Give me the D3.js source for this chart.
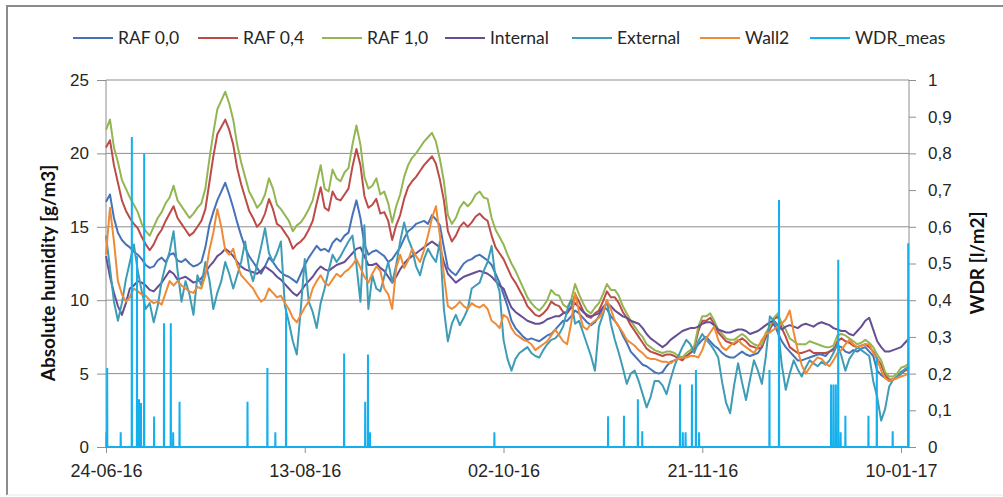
<!DOCTYPE html>
<html>
<head>
<meta charset="utf-8">
<script src="https://cdn.jsdelivr.net/npm/d3@7"></script>
<style>
    body { margin: 0; background: #fff; }
    svg { font-family: Lato, 'Open Sans', sans-serif; }
</style>
</head>
<body>
<div id="chart"></div>
<script>
// daily samples starting 24-06-2016
const startDate = Date.UTC(2016, 5, 24);
const dayMs = 86400000;
const stepDays = 1;
const lastDay = 202;

const raf00 = [
    16.7, 17.2, 15.6, 14.6, 14.1, 13.8, 13.6, 13.3, 13.1, 12.8,
    12.4, 12.2, 12.3, 12.7, 12.9, 12.6, 13.1, 13.2, 12.7, 12.6,
    12.8, 12.5, 12.3, 12.4, 12.6, 13.6, 15.1, 16.0, 16.8, 17.4,
    18.0, 17.2, 16.3, 15.3, 14.4, 13.6, 13.0, 12.6, 12.2, 11.8,
    12.3, 12.9, 12.6, 12.2, 11.9, 11.7, 11.6, 11.4, 11.2, 11.8,
    12.4, 12.9, 13.3, 13.7, 13.4, 13.5, 13.3, 13.9, 14.2, 14.0,
    14.4, 14.6, 15.8, 16.8, 15.6, 13.8, 13.1, 13.3, 13.4, 13.2,
    13.0, 12.6, 12.8, 13.2, 13.6, 14.2, 14.7, 14.9, 15.2, 15.3,
    15.4, 15.2, 15.8, 15.5, 15.1, 13.6, 12.2, 11.9, 11.7, 12.1,
    12.5, 12.7, 12.8, 13.0, 13.1, 12.9, 12.7, 12.4, 11.8, 11.2,
    10.4, 9.6, 8.6, 8.1, 7.8, 7.5, 7.3, 7.4, 7.3, 7.2,
    7.4, 7.6, 7.7, 8.0, 8.3, 8.6, 8.6, 8.9, 9.3, 9.1,
    8.8, 8.5, 8.3, 8.5, 8.9, 9.5, 9.4, 8.9, 8.6, 8.2,
    7.6, 7.1, 6.5, 6.2, 5.9, 5.6, 5.5, 5.3, 5.1, 5.0,
    5.1, 5.5, 5.8, 5.9, 6.0, 6.1, 6.2, 6.4, 6.6, 7.0,
    7.3, 7.5, 7.2, 6.9, 6.7, 6.4, 6.2, 6.1, 6.1, 6.3,
    6.5, 6.3, 6.2, 6.3, 6.4, 6.8, 7.6, 8.1, 8.4, 7.8,
    7.2, 6.8, 6.5, 6.2, 5.9, 5.9, 6.0, 6.1, 6.2, 6.3,
    6.3, 6.2, 6.5, 6.7, 6.9, 6.8, 6.5, 6.4, 6.6, 6.5,
    6.7, 6.8, 6.5, 6.2, 5.2, 4.9, 4.7, 4.5, 4.6, 4.8,
    5.1, 5.3, 5.5,
];
const raf04 = [
    20.4, 20.9, 19.2, 18.0, 16.8, 16.1, 15.6, 15.2, 14.9, 14.3,
    13.8, 13.4, 13.8, 14.4, 14.8, 15.4, 15.9, 16.4, 15.6, 15.2,
    14.8, 14.4, 14.6, 15.0, 15.4, 16.2, 18.0, 19.8, 21.3, 21.8,
    22.3, 21.6, 20.6, 19.0, 17.9, 17.0, 16.1, 15.6, 15.0, 15.3,
    15.9, 16.9, 16.2, 15.2, 15.0, 14.6, 14.2, 13.5, 13.8, 14.0,
    14.3, 14.8, 15.4, 16.6, 17.7, 16.3, 16.1, 17.4, 16.9, 16.8,
    17.2, 17.6, 19.1, 20.3, 19.2, 17.1, 16.3, 16.5, 16.9, 15.9,
    16.0, 15.4, 14.1, 15.1, 15.8, 16.9, 17.7, 18.1, 18.4, 18.8,
    19.2, 19.5, 19.8, 19.3, 18.2, 16.8, 14.7, 14.0, 14.4, 15.0,
    15.3, 15.0, 15.3, 15.7, 15.9, 15.6, 15.4, 14.4, 13.6, 13.2,
    12.8, 12.2, 11.6, 11.2, 10.7, 10.2, 9.6, 9.3, 9.0, 8.9,
    9.1, 9.4, 9.9, 9.7, 9.6, 9.2, 9.1, 9.5, 10.4, 9.9,
    9.3, 8.9, 8.8, 9.1, 9.3, 9.9, 10.6, 10.2, 10.2, 9.8,
    9.2, 8.8, 8.3, 7.9, 7.5, 7.1, 6.7, 6.5, 6.4, 6.3,
    6.2, 6.3, 6.3, 6.2, 6.0, 5.9, 6.2, 6.4, 6.7, 7.9,
    8.6, 8.6, 8.8, 8.4, 7.8, 7.5, 7.2, 7.1, 7.0, 7.2,
    7.4, 7.2, 6.9, 6.8, 6.7, 6.8, 7.5, 8.0, 8.7, 8.9,
    8.1, 7.5, 6.8, 6.6, 6.4, 6.4, 6.5, 6.6, 6.4, 6.4,
    6.4, 6.4, 6.5, 6.6, 7.2, 7.4, 7.2, 7.1, 6.9, 6.8,
    6.9, 7.0, 6.8, 6.5, 6.0, 5.6, 4.9, 4.6, 4.6, 4.7,
    5.0, 5.2, 5.3,
];
const raf10 = [
    21.6, 22.3, 20.4, 19.4, 18.2, 17.6, 17.0, 16.5, 16.0, 15.2,
    14.7, 14.4, 15.0, 15.6, 16.0, 16.6, 17.0, 17.8, 16.8, 16.4,
    16.0, 15.6, 15.9, 16.3, 16.6, 17.6, 19.6, 21.4, 23.0, 23.6,
    24.2, 23.4, 22.3, 20.6, 19.4, 18.4, 17.4, 16.9, 16.3, 16.6,
    17.2, 18.3, 17.6, 16.5, 16.2, 15.8, 15.4, 14.7, 15.1, 15.3,
    15.7, 16.2, 16.8, 18.0, 19.2, 17.6, 17.4, 18.9, 18.3, 18.1,
    18.7, 19.0, 20.6, 21.9, 20.6, 18.4, 17.6, 17.8, 18.3, 17.2,
    17.4, 16.6, 15.3, 16.4, 17.2, 18.4, 19.2, 19.7, 20.0, 20.4,
    20.8, 21.1, 21.4, 20.8, 19.6, 18.1, 15.8, 15.2, 15.6, 16.3,
    16.7, 16.4, 16.7, 17.2, 17.4, 17.0, 16.9, 15.6, 14.8, 14.3,
    13.8, 13.1, 12.5, 12.0, 11.4, 10.8, 10.2, 9.8, 9.5, 9.3,
    9.6, 10.0, 10.7, 10.4, 10.3, 9.7, 9.5, 10.0, 11.1, 10.4,
    9.8, 9.3, 9.1, 9.5, 9.8, 10.4, 11.1, 10.7, 10.7, 10.3,
    9.6, 9.1, 8.6, 8.2, 7.8, 7.5, 7.0, 6.8, 6.6, 6.5,
    6.4, 6.5, 6.5, 6.4, 6.2, 6.1, 6.4, 6.6, 6.9, 8.2,
    8.9, 8.9, 9.1, 8.6, 8.0, 7.7, 7.4, 7.3, 7.3, 7.5,
    7.7, 7.5, 7.2, 7.0, 6.9, 7.0, 7.8, 8.2, 8.8, 9.1,
    8.4, 8.0, 7.4, 7.2, 7.0, 7.0, 7.0, 7.2, 7.1, 7.0,
    6.9, 6.8, 6.8, 6.9, 7.6, 7.7, 7.6, 7.4, 7.2, 7.0,
    7.1, 7.3, 7.1, 6.8, 6.3, 5.9, 5.1, 4.8, 4.8, 5.0,
    5.4, 5.5, 5.7,
];
const internal = [
    13.0, 11.6, 10.5, 9.6, 9.0, 9.8, 10.8, 11.0, 11.3, 11.2,
    11.0, 10.7, 10.6, 10.9, 11.2, 11.6, 12.0, 11.8, 11.4, 11.5,
    11.6, 11.4, 11.2, 11.3, 11.5, 11.9, 12.3, 12.6, 13.0, 13.2,
    13.5, 13.3, 13.0, 12.6, 12.3, 12.1, 12.0, 11.9, 11.8, 12.0,
    12.3, 12.1, 11.9, 11.6, 11.4, 11.1, 10.8, 10.5, 10.3, 10.6,
    11.0, 11.3, 11.6, 12.0, 12.3, 12.1, 12.0, 12.2, 12.4, 12.5,
    12.6, 12.9, 13.2, 13.5, 13.6, 13.0, 12.4, 12.4, 12.5, 12.2,
    12.0, 11.6, 11.2, 11.6, 12.1, 12.5, 12.8, 13.0, 13.2, 13.4,
    13.6, 13.8, 14.0, 13.8, 13.6, 12.6, 11.8, 11.5, 11.2, 11.4,
    11.6, 11.7, 11.8, 11.9, 12.0, 11.9, 11.8, 11.6, 11.3, 11.0,
    10.8, 10.1, 9.5, 9.2, 9.0, 8.8, 8.6, 8.5, 8.4, 8.4,
    8.5, 8.7, 8.8, 8.9, 8.9, 9.1, 9.2, 9.5, 9.8, 9.5,
    9.2, 9.0, 8.9, 9.0, 9.1, 9.5, 9.8, 9.6, 9.3, 9.1,
    8.9, 8.8, 8.6, 8.5, 8.4, 8.1, 7.7, 7.4, 7.2, 7.0,
    6.8, 7.0, 7.3, 7.5, 7.7, 7.9, 8.0, 8.1, 8.1, 8.2,
    8.4, 8.5, 8.5, 8.3, 8.0, 7.9, 7.8, 7.8, 7.9, 8.0,
    8.0, 7.9, 7.7, 7.8, 7.9, 8.1, 8.3, 8.5, 8.6, 8.3,
    8.0, 8.2, 8.3, 8.2, 8.1, 8.3, 8.4, 8.3, 8.2, 8.4,
    8.5, 8.4, 8.3, 8.1, 8.0, 7.9, 7.9, 7.7, 7.6, 7.9,
    8.2, 8.6, 8.8, 8.0, 7.2, 6.8, 6.5, 6.5, 6.6, 6.7,
    6.8, 7.1, 7.4,
];
const external = [
    14.4, 12.2, 9.9, 8.6, 9.8, 11.4, 12.6, 13.8, 12.0, 10.6,
    9.4, 9.8, 8.5, 9.6, 11.3, 12.4, 13.3, 14.7, 12.0, 9.9,
    11.3, 10.4, 9.0, 11.7, 11.0, 12.6, 11.4, 9.4, 10.5, 11.3,
    12.6, 11.8, 10.8, 11.7, 12.6, 14.0, 12.2, 11.3, 12.4, 13.6,
    14.9, 13.2, 12.6, 13.2, 14.0, 9.6, 8.5, 7.2, 6.3, 9.4,
    12.8, 9.9, 9.2, 8.1, 9.8, 10.8, 12.0, 13.1, 12.6, 13.0,
    13.5, 14.0, 14.4, 12.4, 9.9, 15.1, 9.4, 11.7, 10.8, 10.6,
    11.6, 12.6, 11.2, 12.4, 14.0, 15.3, 14.2, 13.5, 12.3, 11.7,
    12.8, 13.5, 13.0, 12.6, 14.0, 9.4, 7.2, 8.4, 9.0, 8.3,
    8.8, 9.4, 10.8, 11.0, 11.2, 12.0, 12.6, 13.7, 11.5, 10.6,
    7.3, 6.0, 5.2, 6.0, 6.4, 6.6, 6.8, 6.4, 6.2, 6.1,
    6.6, 7.0, 7.3, 7.4, 7.7, 8.2, 9.3, 10.0, 8.4, 8.6,
    7.8, 7.0, 6.2, 5.2, 8.2, 9.0, 10.0, 8.4, 7.3, 6.4,
    5.4, 4.3, 5.0, 5.2, 4.5, 3.6, 2.7, 3.4, 4.5, 4.5,
    4.2, 3.6, 4.6, 5.5, 6.2, 6.8, 7.3, 7.0, 6.4, 7.2,
    7.7, 7.3, 7.0, 6.6, 6.1, 4.4, 3.0, 2.3, 4.2, 5.7,
    4.4, 3.2, 4.6, 5.9, 5.2, 4.3, 6.2, 8.9, 8.6, 8.2,
    5.6, 3.9, 5.0, 5.9, 5.3, 4.8, 5.4, 5.9, 5.7, 5.5,
    5.8, 5.6, 5.9, 6.4, 7.0, 6.2, 5.2, 6.0, 6.4, 6.8,
    6.6, 6.4, 6.2, 4.5, 3.4, 1.8, 2.6, 4.1, 4.6, 4.8,
    5.0, 5.3, 5.5,
];
const wall2 = [
    13.1, 16.3, 14.0, 11.3, 10.4, 9.9, 10.2, 10.8, 10.6, 10.4,
    10.3, 10.0, 9.8, 9.9, 9.7, 10.5, 11.3, 11.0, 11.3, 11.0,
    10.8, 10.6, 10.5, 10.9, 10.8, 11.7, 13.4, 14.6, 16.2, 15.0,
    13.4, 13.1, 13.5, 12.4, 11.7, 11.4, 11.1, 10.8, 10.3, 9.9,
    10.1, 10.8, 10.5, 10.2, 10.3, 9.8, 9.4, 8.8, 8.5, 9.0,
    9.5, 9.9, 10.8, 11.3, 11.7, 11.2, 11.0, 11.4, 11.8, 11.6,
    11.9, 12.1, 12.4, 12.8, 12.2, 11.6, 11.2, 11.8, 12.3, 12.0,
    10.8, 10.4, 9.4, 12.2, 13.1, 12.2, 12.7, 13.5, 13.0, 12.6,
    13.4, 14.4, 15.6, 16.4, 14.4, 11.7, 9.6, 9.4, 9.6, 9.9,
    9.6, 9.4, 9.8, 9.6, 9.5, 9.7, 9.4, 8.6, 8.4, 8.1,
    9.0, 8.8, 8.1, 7.7, 7.5, 7.3, 7.2, 7.0, 6.6, 6.8,
    7.0, 7.2, 7.6, 8.0, 7.6, 7.2, 7.0, 8.4, 10.5, 9.2,
    8.2, 8.0, 8.4, 8.6, 8.8, 9.2, 10.0, 9.4, 8.6, 8.2,
    7.8, 7.3, 7.1, 6.9, 6.6, 6.4, 6.1, 6.0, 6.0, 5.9,
    5.8, 5.8, 5.7, 5.9, 6.0, 6.1, 6.1, 6.2, 6.2, 6.1,
    6.6, 7.4, 7.8, 8.2, 7.3, 6.8, 6.6, 6.9, 7.1, 7.3,
    7.0, 6.8, 6.6, 6.4, 6.8, 7.3, 7.7, 7.8, 8.0, 8.2,
    8.4, 8.7, 9.3, 7.8, 6.6, 5.6, 5.0, 5.4, 5.8, 6.1,
    6.0, 5.7, 5.5, 5.9, 6.4, 6.6, 7.0, 7.3, 7.0, 6.8,
    6.9, 7.0, 7.0, 6.4, 6.0, 5.2, 4.7, 4.5, 4.6, 4.7,
    4.8, 4.9, 5.0,
];

// measured wind driven rain events (day offset, l/m2)
const wdrDays = [
    0.1, 0.3, 3.7, 6.5, 7.8, 8.3, 8.8, 9.6, 12.1, 14.6,
    16.3, 16.9, 18.5, 35.6, 40.6, 42.6, 45.3, 59.9, 65.2, 65.9,
    66.4, 97.7, 126.3, 130.3, 133.8, 134.9, 144.4, 145.1, 145.8, 147.4,
    148.4, 149.2, 166.9, 169.3, 182.4, 183.0, 183.6, 184.2, 184.8, 186.0,
    191.8, 193.9, 197.9, 201.8,
];
const wdrValues = [
    0.04, 0.215, 0.04, 0.845, 0.52, 0.13, 0.12, 0.80, 0.083, 0.337,
    0.337, 0.04, 0.123, 0.123, 0.215, 0.04, 0.378, 0.255, 0.123, 0.252,
    0.04, 0.04, 0.084, 0.085, 0.13, 0.043, 0.17, 0.04, 0.04, 0.17,
    0.21, 0.04, 0.21, 0.673, 0.17, 0.17, 0.17, 0.51, 0.04, 0.085,
    0.085, 0.246, 0.043, 0.555,
];

const seriesNames = ['RAF 0,0', 'RAF 0,4', 'RAF 1,0', 'Internal', 'External', 'Wall2'];
const seriesValues = [raf00, raf04, raf10, internal, external, wall2];
const seriesColors = ['#4672B9', '#BD4B48', '#93B552', '#654E94', '#3E9CB6', '#EF8B37'];
const wdrName = 'WDR_meas';
const wdrColor = '#14B0EE';

const xTickDays = [0, 50, 100, 150, 200];
const yLeftTicks = [0, 5, 10, 15, 20, 25];
const yRightTicks = [0, 0.1, 0.2, 0.3, 0.4, 0.5, 0.6, 0.7, 0.8, 0.9, 1];

const dayDate = (d) => new Date(startDate + d * dayMs);

function drawChart(selector) {
    const totalWidth = 1003;
    const totalHeight = 497;
    const margin = {
        top: 80,
        right: 94,
        bottom: 50,
        left: 106,
    };
    const width = totalWidth - margin.left - margin.right;
    const height = totalHeight - margin.top - margin.bottom;

    const svg = d3
        .select(selector)
        .append('svg')
        .attr('width', totalWidth)
        .attr('height', totalHeight);

    svg.append('rect')
        .attr('width', totalWidth)
        .attr('height', totalHeight)
        .attr('fill', '#fff');

    // frame of the pasted chart (only left / top really visible)
    svg.append('path')
        .attr('d', 'M7,495 V6 H1003')
        .attr('fill', 'none')
        .attr('stroke', '#8c8c8c')
        .attr('stroke-width', 2);
    svg.append('line')
        .attr('x1', 7).attr('x2', 1003)
        .attr('y1', 495).attr('y2', 495)
        .attr('stroke', '#e6e6e6');

    const g = svg.append('g')
        .attr('transform', 'translate(' + margin.left + ',' + margin.top + ')');

    const x = d3
        .scaleUtc()
        .domain([dayDate(0), dayDate(lastDay)])
        .range([0, width]);
    const yLeft = d3
        .scaleLinear()
        .domain([0, 25])
        .range([height, 0]);
    const yRight = d3
        .scaleLinear()
        .domain([0, 1])
        .range([height, 0]);

    const commaFormat = d3.formatLocale({
        decimal: ',',
        thousands: '.',
        grouping: [3],
        currency: ['', ''],
    }).format('~g');

    // gridlines
    g.append('g')
        .selectAll('line')
        .data(yLeftTicks.filter((t) => t > 0))
        .enter()
        .append('line')
        .attr('x1', 0)
        .attr('x2', width)
        .attr('y1', (d) => yLeft(d))
        .attr('y2', (d) => yLeft(d))
        .attr('stroke', '#8e8e8e')
        .attr('stroke-width', 1);

    const tickColor = '#8e8e8e';
    const labelColor = '#262626';

    // left axis
    const yLeftAxis = d3.axisLeft(yLeft)
        .tickValues(yLeftTicks)
        .tickSize(9)
        .tickPadding(8);
    const leftAxisG = g.append('g').call(yLeftAxis);
    leftAxisG.selectAll('path, line').attr('stroke', tickColor);
    leftAxisG.select('.domain').attr('d', 'M0,0 V' + height);
    leftAxisG.selectAll('text')
        .attr('fill', labelColor)
        .attr('font-size', 17);

    // right axis
    const yRightAxis = d3.axisRight(yRight)
        .tickValues(yRightTicks)
        .tickFormat(commaFormat)
        .tickSize(7)
        .tickPadding(12);
    const rightAxisG = g.append('g')
        .attr('transform', 'translate(' + width + ',0)')
        .call(yRightAxis);
    rightAxisG.selectAll('path, line').attr('stroke', tickColor);
    rightAxisG.select('.domain').attr('d', 'M0,0 V' + height);
    rightAxisG.selectAll('text')
        .attr('fill', labelColor)
        .attr('font-size', 17);

    // bottom axis
    const xAxis = d3.axisBottom(x)
        .tickValues(xTickDays.map(dayDate))
        .tickFormat(d3.utcFormat('%d-%m-%y'))
        .tickSize(6)
        .tickPadding(11);
    const bottomAxisG = g.append('g')
        .attr('transform', 'translate(0,' + height + ')')
        .call(xAxis);
    bottomAxisG.selectAll('path, line').attr('stroke', tickColor);
    bottomAxisG.select('.domain').attr('d', 'M0,0 H' + width);
    bottomAxisG.selectAll('text')
        .attr('fill', labelColor)
        .attr('font-size', 18);

    // humidity series
    const line = d3.line()
        .x((d, i) => x(dayDate(i * stepDays)))
        .y((d) => yLeft(d));

    g.append('g')
        .selectAll('path')
        .data(seriesValues)
        .enter()
        .append('path')
        .attr('d', (d) => line(d))
        .attr('fill', 'none')
        .attr('stroke', (d, i) => seriesColors[i])
        .attr('stroke-width', 2)
        .attr('stroke-linejoin', 'round');

    // WDR: zero line with a narrow spike per event
    const wdrPoints = [{day: 0, v: 0}];
    wdrDays.forEach((day, i) => {
        wdrPoints.push({day: day - 0.04, v: 0});
        wdrPoints.push({day: day, v: wdrValues[i]});
        wdrPoints.push({day: day + 0.04, v: 0});
    });
    wdrPoints.push({day: lastDay, v: 0});

    const wdrLine = d3.line()
        .x((d) => x(dayDate(d.day)))
        .y((d) => yRight(d.v));

    g.append('path')
        .datum(wdrPoints)
        .attr('d', wdrLine)
        .attr('fill', 'none')
        .attr('stroke', wdrColor)
        .attr('stroke-width', 2);

    // axis titles
    svg.append('text')
        .attr('transform', 'translate(55,273) rotate(-90)')
        .attr('text-anchor', 'middle')
        .attr('font-size', 19)
        .attr('font-weight', 'bold')
        .attr('fill', '#111')
        .text('Absolute humidity [g/m3]');

    svg.append('text')
        .attr('transform', 'translate(984,263) rotate(-90)')
        .attr('text-anchor', 'middle')
        .attr('font-size', 19)
        .attr('font-weight', 'bold')
        .attr('fill', '#111')
        .text('WDR [l/m2]');

    // legend
    const legendNames = seriesNames.concat([wdrName]);
    const legendColors = seriesColors.concat([wdrColor]);
    const legendX = [73, 198, 322, 445, 572, 700, 810];
    const legend = svg.append('g')
        .selectAll('g')
        .data(legendNames)
        .enter()
        .append('g')
        .attr('transform', (d, i) => 'translate(' + legendX[i] + ',38)');
    legend.append('line')
        .attr('x1', 0)
        .attr('x2', 40)
        .attr('stroke', (d, i) => legendColors[i])
        .attr('stroke-width', 2);
    legend.append('text')
        .attr('x', 45)
        .attr('dy', '0.36em')
        .attr('font-size', 17.5)
        .attr('fill', labelColor)
        .text((d) => d);
}

drawChart('#chart');
</script>
</body>
</html>
